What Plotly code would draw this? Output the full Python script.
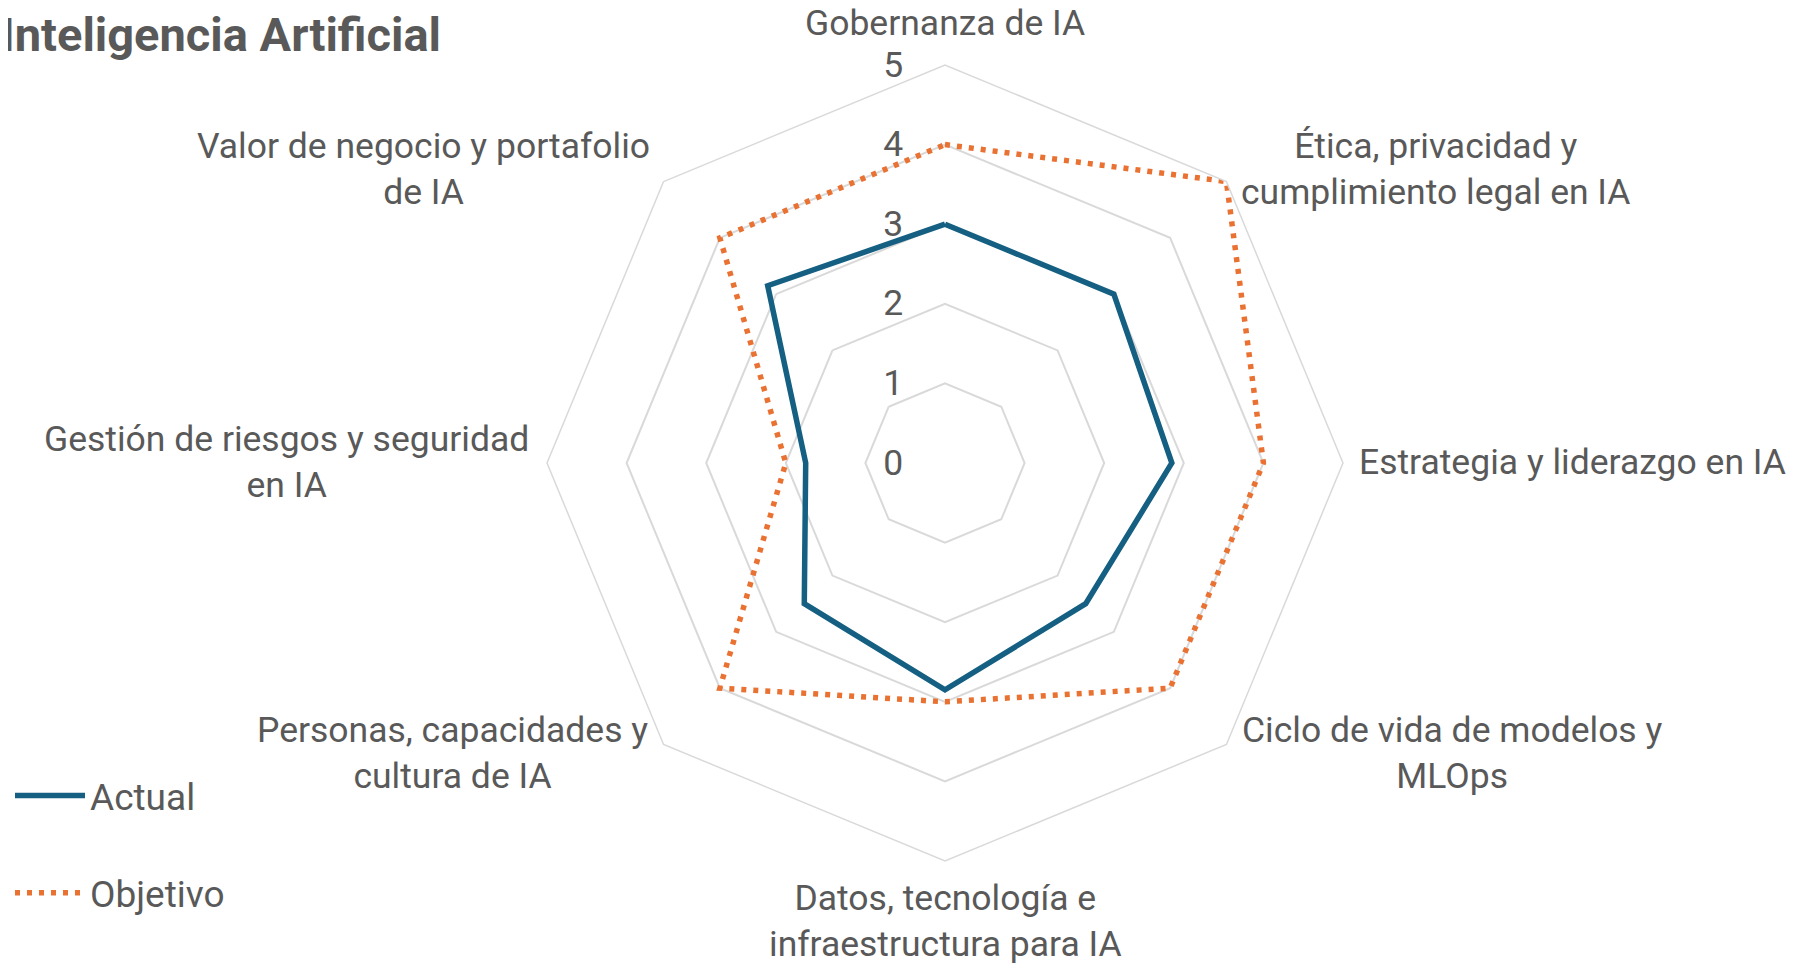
import plotly.graph_objects as go

# ---- data ----
categories = [
    "Gobernanza de IA",
    "Ética, privacidad y cumplimiento legal en IA",
    "Estrategia y liderazgo en IA",
    "Ciclo de vida de modelos y MLOps",
    "Datos, tecnología e infraestructura para IA",
    "Personas, capacidades y cultura de IA",
    "Gestión de riesgos y seguridad en IA",
    "Valor de negocio y portafolio de IA",
]
category_labels = [
    "Gobernanza de IA",
    "Ética, privacidad y<br>cumplimiento legal en IA",
    "Estrategia y liderazgo en IA",
    "Ciclo de vida de modelos y<br>MLOps",
    "Datos, tecnología e<br>infraestructura para IA",
    "Personas, capacidades y<br>cultura de IA",
    "Gestión de riesgos y seguridad<br>en IA",
    "Valor de negocio y portafolio<br>de IA",
]
actual = [3.0, 3.0, 2.85, 2.5, 2.85, 2.5, 1.75, 3.15]
objetivo = [4, 5, 4, 4, 3, 4, 2, 4]
series_names = ["Actual", "Objetivo"]
radial_ticks = [0, 1, 2, 3, 4, 5]
title_text = "Inteligencia Artificial"

# ---- style ----
W, H = 1794, 965
OFF = 8  # the page body adds an 8px margin; compensate
FONT = "Roboto"
TXT = "#595959"
GRID = "#D9D9D9"
C_ACT = "#156082"
C_OBJ = "#E97132"
FS = 35.5

cx, cy, R = 945 - OFF, 463 - OFF, 398  # pixel centre / radius of the radar

fig = go.Figure()
fig.add_trace(go.Scatterpolar(
    r=actual + actual[:1], theta=categories + categories[:1],
    mode="lines", name=series_names[0], legendgroup="a",
    line=dict(color=C_ACT, width=5.5), hoverinfo="skip",
))
fig.add_trace(go.Scatterpolar(
    r=objetivo + objetivo[:1], theta=categories + categories[:1],
    mode="lines", name=series_names[1], legendgroup="b",
    line=dict(color=C_OBJ, width=5.5, dash="5px,7px"), hoverinfo="skip",
))

fig.update_layout(
    width=W, height=H,
    margin=dict(l=0, r=0, t=0, b=0),
    paper_bgcolor="white", plot_bgcolor="white",
    font=dict(family=FONT, color=TXT, size=FS),
    polar=dict(
        domain=dict(x=[(cx - R) / W, (cx + R) / W],
                    y=[(H - cy - R) / H, (H - cy + R) / H]),
        bgcolor="white",
        gridshape="linear",
        angularaxis=dict(
            type="category", rotation=90, direction="clockwise",
            showgrid=False, showticklabels=False, ticks="",
            showline=True, linecolor=GRID, linewidth=1.5,
        ),
        radialaxis=dict(
            range=[0, 5], tickvals=radial_ticks, angle=90,
            side="counterclockwise", tickangle=90,
            showline=False, gridcolor=GRID, gridwidth=1.5,
            ticks="outside", ticklen=29, tickcolor="rgba(0,0,0,0)",
            tickfont=dict(size=FS, color=TXT, family=FONT),
        ),
    ),
    showlegend=True,
    legend=dict(
        x=2 / W, y=1 - 757 / H, xanchor="left", yanchor="top",
        font=dict(size=37, color=TXT, family=FONT),
        tracegroupgap=46, itemwidth=70, bgcolor="rgba(0,0,0,0)",
    ),
)

# chart title (slightly clipped at the left edge, as in the reference)
fig.add_annotation(
    text="<b>" + title_text + "</b>", x=-9 / W, y=1 - 27 / H,
    xref="paper", yref="paper", showarrow=False,
    xanchor="left", yanchor="middle",
    font=dict(size=47, color=TXT, family=FONT),
)

# category labels placed around the radar (pixel positions in paper space)
label_pos = [
    (945, 23), (1436, 169), (1572, 462), (1452, 753),
    (945, 921), (452, 753), (286, 462), (423, 169),
]
for lab, (px, py) in zip(category_labels, label_pos):
    fig.add_annotation(
        text=lab, x=(px - OFF) / W, y=1 - (py - OFF) / H,
        xref="paper", yref="paper",
        showarrow=False, xanchor="center", yanchor="middle", align="center",
        font=dict(size=FS, color=TXT, family=FONT),
    )

fig.write_html("out.html")
